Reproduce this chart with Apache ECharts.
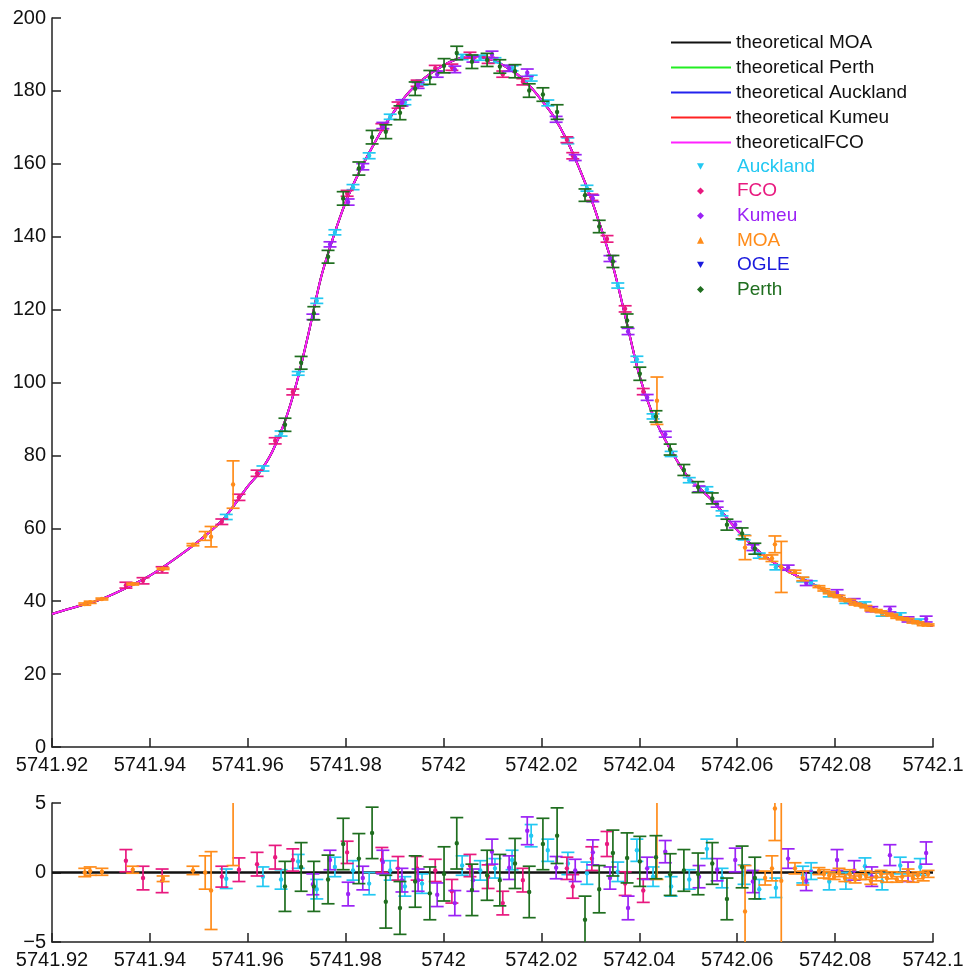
<!DOCTYPE html>
<html>
<head>
<meta charset="utf-8">
<script src="https://cdn.jsdelivr.net/npm/echarts@6/dist/echarts.min.js"></script>
<style>html,body{margin:0;padding:0;background:#fff}#c{width:977px;height:970px}</style>
</head>
<body>
<div id="c"></div>
<script>
// ---- model light curve ----
const modelT = [5741.92, 5741.925, 5741.93, 5741.935, 5741.94, 5741.945, 5741.95, 5741.955, 5741.96, 5741.9625, 5741.965, 5741.9675, 5741.97, 5741.9725, 5741.975, 5741.9775, 5741.98, 5741.9825, 5741.985, 5741.9875, 5741.99, 5741.9925, 5741.995, 5741.9975, 5742.0, 5742.0025, 5742.005, 5742.0075, 5742.01, 5742.0125, 5742.015, 5742.0175, 5742.02, 5742.0225, 5742.025, 5742.0275, 5742.03, 5742.0325, 5742.035, 5742.0375, 5742.04, 5742.0425, 5742.045, 5742.0475, 5742.05, 5742.055, 5742.06, 5742.065, 5742.07, 5742.075, 5742.08, 5742.085, 5742.09, 5742.095, 5742.1];
const modelF = [36.5, 38.5, 40.5, 43.5, 47, 51.5, 56.5, 62.5, 71.5, 75.5, 81, 89, 100, 114, 129, 140, 149.5, 157, 163.5, 169.5, 174.5, 179, 182.3, 184.9, 187, 188.6, 189.4, 189.3, 188.5, 186.8, 184.6, 181.5, 177.5, 173, 167, 159.5, 151, 141, 130, 116, 102, 92, 85, 79, 74, 67.5, 59.5, 53, 48.5, 45, 41.7, 39.3, 37, 35, 33.2];

// ---- Auckland ----
const tAuckland = [5741.9556, 5741.9631, 5741.9668, 5741.9703, 5741.9741, 5741.9778, 5741.9815, 5741.9848, 5741.9891, 5741.9921, 5741.9956, 5742.0038, 5742.0075, 5742.0105, 5742.014, 5742.0179, 5742.0213, 5742.0254, 5742.0293, 5742.0356, 5742.0395, 5742.0428, 5742.0465, 5742.0502, 5742.0538, 5742.0569, 5742.0614, 5742.0645, 5742.0679, 5742.0734, 5742.0751, 5742.0788, 5742.0822, 5742.0861, 5742.0896, 5742.0933, 5742.0974];
const fAuckland = [63.1, 76.4, 86, 102.5, 122.4, 141.2, 153.6, 162.2, 172.9, 176.9, 182.3, 189.3, 189.1, 188.4, 186.2, 183.5, 176.7, 166.3, 153.3, 126.6, 106.4, 90.7, 80.4, 73.2, 70.7, 64.1, 57.5, 52.5, 49.3, 45.9, 45, 41.8, 40, 39.2, 36.5, 36.2, 34.5];
const rAuckland = [-0.45, -0.3, -0.5, 0.8, -1.2, 0.4, 0.15, -0.8, 0.15, -1.0, -0.8, 0.5, 0.15, 0.3, 0.9, 2.65, 1.6, 0.65, -0.05, 0.05, 1.6, -0.3, -1.0, -0.5, 1.7, -0.4, -0.15, -1.2, -1.1, -0.15, 0.1, -0.65, -0.6, 0.45, -0.65, 0.5, 0.4];
const eAuckland = [0.7, 0.7, 0.7, 0.5, 0.7, 0.7, 0.7, 0.8, 0.7, 0.7, 0.7, 0.7, 0.7, 0.7, 0.7, 0.8, 0.8, 0.8, 0.8, 0.7, 0.8, 0.7, 0.7, 0.7, 0.7, 0.7, 0.7, 0.7, 0.7, 0.6, 0.6, 0.6, 0.6, 0.6, 0.6, 0.6, 0.6];

// ---- FCO ----
const tFCO = [5741.9351, 5741.9386, 5741.9425, 5741.9547, 5741.9582, 5741.9619, 5741.9656, 5741.9692, 5741.9803, 5741.9874, 5741.9907, 5741.9946, 5741.9983, 5742.0017, 5742.0054, 5742.0091, 5742.0121, 5742.0162, 5742.0252, 5742.0264, 5742.0303, 5742.0334, 5742.0371, 5742.0408];
const fFCO = [44.4, 45.6, 48.6, 61.8, 68.5, 75.1, 84.0, 97.4, 151.9, 170.1, 176.1, 182.1, 186.2, 186.5, 189.8, 188.4, 184.6, 182.5, 166.6, 162.2, 150.8, 139.4, 120.2, 97.5];
const rFCO = [0.85, -0.4, -0.6, -0.3, 0.2, 0.6, 1.1, 0.9, 1.45, 0.9, 0.3, 0.3, 0.15, -1.35, 0.5, -0.3, -2.2, -0.55, 0.3, -1.0, 1.0, 2.05, -0.8, -1.3];
const eFCO = [0.8, 0.85, 0.85, 0.75, 0.85, 0.85, 0.85, 0.8, 0.8, 0.9, 0.85, 0.85, 0.8, 0.85, 0.8, 0.85, 0.85, 0.85, 0.8, 0.85, 0.85, 0.9, 0.85, 0.85];

// ---- Kumeu ----
const tKumeu = [5741.9733, 5741.9768, 5741.9805, 5741.9835, 5741.9876, 5741.9915, 5741.9948, 5741.9987, 5742.0023, 5742.006, 5742.0099, 5742.0134, 5742.0171, 5742.023, 5742.0269, 5742.0305, 5742.034, 5742.0377, 5742.0416, 5742.0453, 5742.0522, 5742.0559, 5742.0596, 5742.0632, 5742.0704, 5742.0741, 5742.0804, 5742.0839, 5742.0875, 5742.0912, 5742.0949, 5742.0986];
const fKumeu = [118, 137.9, 149.5, 159.2, 170.5, 176.7, 181.5, 184.6, 185.9, 188.7, 190, 186.2, 185, 172.2, 161.7, 150.5, 134, 114, 95.9, 85.8, 70.8, 66.6, 61, 54.7, 49.2, 45, 42.4, 40, 37.8, 37.8, 35, 35.1];
const rKumeu = [-0.85, 0.9, -1.55, -0.4, 0.75, -0.55, -0.55, -1.6, -2.2, -0.55, 1.5, 0.35, 3.0, 0.35, 0.15, 1.45, -0.4, -2.55, 0.3, 1.5, -0.3, 0.2, 0.9, -0.65, 1.0, -0.6, 0.9, 0.15, -0.3, 1.25, 0.05, 1.4];
const eKumeu = [0.75, 0.7, 0.85, 0.85, 0.85, 0.85, 0.8, 0.85, 0.9, 0.8, 0.9, 0.85, 1.0, 0.8, 0.8, 0.9, 0.8, 0.85, 0.8, 0.8, 0.8, 0.8, 0.85, 0.8, 0.7, 0.7, 0.75, 0.7, 0.7, 0.75, 0.7, 0.8];

// ---- MOA ----
const tMOA = [5741.9267, 5741.9278, 5741.9302, 5741.9365, 5741.9427, 5741.9488, 5741.9513, 5741.9525, 5741.957, 5742.0436, 5742.0616, 5742.0657, 5742.0671, 5742.0677, 5742.069, 5742.0718, 5742.0734, 5742.0767, 5742.0777, 5742.0788, 5742.0798, 5742.0808, 5742.082, 5742.083, 5742.0841, 5742.0851, 5742.0863, 5742.0873, 5742.0884, 5742.0894, 5742.0906, 5742.0916, 5742.0926, 5742.0937, 5742.0949, 5742.0959, 5742.0969, 5742.098, 5742.099];
const fMOA = [39.2, 39.7, 40.6, 44.7, 48.9, 55.5, 57.9, 57.7, 72, 95, 54.7, 52.1, 51.8, 55.6, 49.4, 48.1, 46.1, 44.0, 43.1, 42.3, 41.5, 41.3, 40.3, 40.2, 39.2, 38.9, 38.5, 37.6, 37.4, 37.1, 36.4, 36.2, 35.5, 35.2, 35.0, 34.3, 34.1, 33.6, 33.5];
const rMOA = [0, 0.1, 0.05, 0.2, -0.45, 0.15, 0, -1.3, 7, 6, -2.8, -0.4, 0.3, 4.6, -0.6, 0.3, -0.4, 0.1, -0.1, -0.2, -0.3, 0.0, -0.4, -0.1, -0.5, -0.3, -0.2, -0.6, -0.3, -0.1, -0.4, -0.2, -0.5, -0.3, 0.0, -0.4, -0.2, -0.3, -0.1];
const eMOA = [0.3, 0.3, 0.25, 0.25, 0.2, 0.3, 1.2, 2.8, 6.5, 6.5, 3.3, 0.5, 0.9, 2.3, 7, 0.4, 0.5, 0.25, 0.3, 0.25, 0.2, 0.3, 0.25, 0.3, 0.25, 0.2, 0.3, 0.25, 0.3, 0.25, 0.3, 0.25, 0.2, 0.3, 0.25, 0.3, 0.25, 0.3, 0.25];

// ---- OGLE (no points in view) ----
const tOGLE = [];
const fOGLE = [];
const rOGLE = [];
const eOGLE = [];

// ---- Perth ----
const tPerth = [5741.9676, 5741.9709, 5741.9735, 5741.9764, 5741.9795, 5741.9827, 5741.9854, 5741.9882, 5741.9911, 5741.9942, 5741.9972, 5742.0001, 5742.0027, 5742.0058, 5742.0089, 5742.0115, 5742.0146, 5742.0175, 5742.0203, 5742.0232, 5742.0289, 5742.0318, 5742.0346, 5742.0375, 5742.0401, 5742.0434, 5742.0463, 5742.0491, 5742.052, 5742.0549, 5742.0579, 5742.061, 5742.0636];
const fPerth = [88.4, 105.4, 119, 134.5, 150.5, 158.7, 167.3, 168.8, 174, 180.6, 183.7, 186.9, 190.4, 188, 188.5, 186.7, 185.4, 180.1, 179, 174.2, 151.4, 142.8, 133.2, 117, 102.4, 90.7, 81.6, 76, 71.3, 68.2, 61, 58.6, 54.4];
const rPerth = [-1.0, 0.4, -1.0, -0.5, 2.05, 1.0, 2.85, -2.1, -2.55, -0.65, -1.5, -0.1, 2.1, -1.25, -0.2, -0.55, 0.65, -1.4, 2.05, 2.65, -3.4, -1.2, 1.4, 1.05, 0.8, 1.1, -0.15, 0.15, -0.1, 0.65, -1.9, 0.4, -0.4];
const ePerth = [1.8, 1.75, 1.8, 1.75, 1.85, 1.8, 1.85, 1.9, 1.9, 1.85, 1.9, 1.95, 1.85, 1.85, 1.8, 1.85, 1.8, 1.85, 1.85, 2.0, 1.7, 1.7, 1.65, 1.8, 1.8, 1.55, 1.5, 1.5, 1.5, 1.5, 1.5, 1.5, 1.5];

// ---- axis ticks ----
const xMin = 5741.92, xMax = 5742.1, xStep = 0.02;
const yTopTicks = [0, 200, 20];
const yResTicks = [-5, 5, 5];

const FONT = "'Liberation Sans', Arial, sans-serif";
const obs = [
  {name: 'Auckland', color: '#22c8f2', t: tAuckland, f: fAuckland, r: rAuckland, e: eAuckland, icon: 'path://M0,0L10,0L5,9Z'},
  {name: 'FCO', color: '#e8197f', t: tFCO, f: fFCO, r: rFCO, e: eFCO, icon: 'diamond'},
  {name: 'Kumeu', color: '#9b22f5', t: tKumeu, f: fKumeu, r: rKumeu, e: eKumeu, icon: 'diamond'},
  {name: 'MOA', color: '#ff8c1a', t: tMOA, f: fMOA, r: rMOA, e: eMOA, icon: 'triangle'},
  {name: 'OGLE', color: '#1a1add', t: tOGLE, f: fOGLE, r: rOGLE, e: eOGLE, icon: 'path://M0,0L10,0L5,9Z'},
  {name: 'Perth', color: '#1f6e1f', t: tPerth, f: fPerth, r: rPerth, e: ePerth, icon: 'diamond'}
];
const theo = [
  {name: 'theoretical MOA', color: '#111111'},
  {name: 'theoretical Perth', color: '#22ee22'},
  {name: 'theoretical Auckland', color: '#2222ee'},
  {name: 'theoretical Kumeu', color: '#ff2222'},
  {name: 'theoreticalFCO', color: '#ff22ff'}
];

function errRender(color) {
  return function (params, api) {
    const t = api.value(0), v = api.value(1), e = api.value(2);
    const cs = params.coordSys;
    const c = api.coord([t, v]);
    const pT = api.coord([t, v + e]);
    const pB = api.coord([t, v - e]);
    const x = c[0];
    const yMin = cs.y, yMax = cs.y + cs.height;
    const ch = [];
    const y1 = Math.max(pT[1], yMin), y2 = Math.min(pB[1], yMax);
    const st = {stroke: color, lineWidth: 1.7};
    if (y1 < y2) ch.push({type: 'line', shape: {x1: x, y1: y1, x2: x, y2: y2}, style: st});
    const hw = 6.5;
    if (pT[1] >= yMin - 0.5 && pT[1] <= yMax) ch.push({type: 'line', shape: {x1: x - hw, y1: pT[1], x2: x + hw, y2: pT[1]}, style: st});
    if (pB[1] >= yMin && pB[1] <= yMax + 0.5) ch.push({type: 'line', shape: {x1: x - hw, y1: pB[1], x2: x + hw, y2: pB[1]}, style: st});
    if (c[1] >= yMin && c[1] <= yMax) ch.push({type: 'circle', shape: {cx: x, cy: c[1], r: 2.2}, style: {fill: color}});
    return {type: 'group', children: ch};
  };
}

const fmtX = v => String(parseFloat(Number(v).toFixed(2)));
const fmtY = v => (v < 0 ? '\u2212' + (-v) : String(v));
const axisCommon = {
  axisLine: {show: true, onZero: false, lineStyle: {color: '#222', width: 1.5}},
  axisTick: {show: true, inside: true, length: 9, lineStyle: {color: '#222', width: 1.5}},
  splitLine: {show: false},
  axisLabel: {color: '#111', fontSize: 20, fontFamily: FONT}
};

const series = [];
// theoretical curves (top panel)
const theoOrder = [1, 2, 3, 0, 4];
theoOrder.forEach(i => {
  const th = theo[i];
  series.push({
    name: th.name, type: 'line', xAxisIndex: 0, yAxisIndex: 0,
    data: modelT.map((t, k) => [t, modelF[k]]),
    smooth: 0.3, showSymbol: false, symbol: 'none', silent: true,
    lineStyle: {color: th.color, width: 2}, itemStyle: {color: th.color}, z: 2
  });
});
// zero residual line
series.push({
  name: 'theoretical MOA', type: 'line', xAxisIndex: 1, yAxisIndex: 1,
  data: [[xMin, 0], [xMax, 0]], showSymbol: false, symbol: 'none', silent: true,
  lineStyle: {color: '#111', width: 2.5}, itemStyle: {color: '#111'}, z: 2
});
obs.forEach(o => {
  series.push({
    name: o.name, type: 'custom', xAxisIndex: 0, yAxisIndex: 0,
    renderItem: errRender(o.color), itemStyle: {color: o.color},
    data: o.t.map((t, k) => [t, o.f[k], o.e[k]]), encode: {x: 0, y: 1}, z: 3
  });
  series.push({
    name: o.name, type: 'custom', xAxisIndex: 1, yAxisIndex: 1,
    renderItem: errRender(o.color), itemStyle: {color: o.color},
    data: o.t.map((t, k) => [t, o.r[k], o.e[k]]), encode: {x: 0, y: 1}, z: 3
  });
});

const chart = echarts.init(document.getElementById('c'), null, {renderer: 'canvas'});
chart.setOption({
  animation: false,
  backgroundColor: '#fff',
  textStyle: {fontFamily: FONT},
  grid: [
    {left: 52, right: 44, top: 18, height: 729},
    {left: 52, right: 44, top: 803, height: 141}
  ],
  xAxis: [0, 1].map(g => Object.assign({}, axisCommon, {
    type: 'value', gridIndex: g, min: xMin, max: xMax, interval: xStep,
    axisLabel: Object.assign({}, axisCommon.axisLabel, {formatter: fmtX, margin: 8, showMinLabel: true, showMaxLabel: true})
  })),
  yAxis: [
    Object.assign({}, axisCommon, {type: 'value', gridIndex: 0, min: yTopTicks[0], max: yTopTicks[1], interval: yTopTicks[2],
      axisLabel: Object.assign({}, axisCommon.axisLabel, {formatter: fmtY, margin: 6})}),
    Object.assign({}, axisCommon, {type: 'value', gridIndex: 1, min: yResTicks[0], max: yResTicks[1], interval: yResTicks[2],
      axisLabel: Object.assign({}, axisCommon.axisLabel, {formatter: fmtY, margin: 6})})
  ],
  legend: [
    {
      orient: 'vertical', left: 666, top: 28, itemWidth: 60, itemHeight: 2, itemGap: 6,
      selectedMode: false,
      textStyle: {color: '#111', fontSize: 19, fontFamily: FONT},
      data: theo.map(th => ({name: th.name, icon: 'rect', itemStyle: {color: th.color}}))
    },
    {
      orient: 'vertical', left: 692, top: 152, itemWidth: 7, itemHeight: 7, itemGap: 5.6,
      selectedMode: false,
      textStyle: {fontSize: 19, fontFamily: FONT, padding: [0, 0, 0, 28]},
      data: obs.map(o => ({name: o.name, icon: o.icon, itemStyle: {color: o.color}, textStyle: {color: o.color}}))
    }
  ],
  series: series
});
</script>
</body>
</html>
